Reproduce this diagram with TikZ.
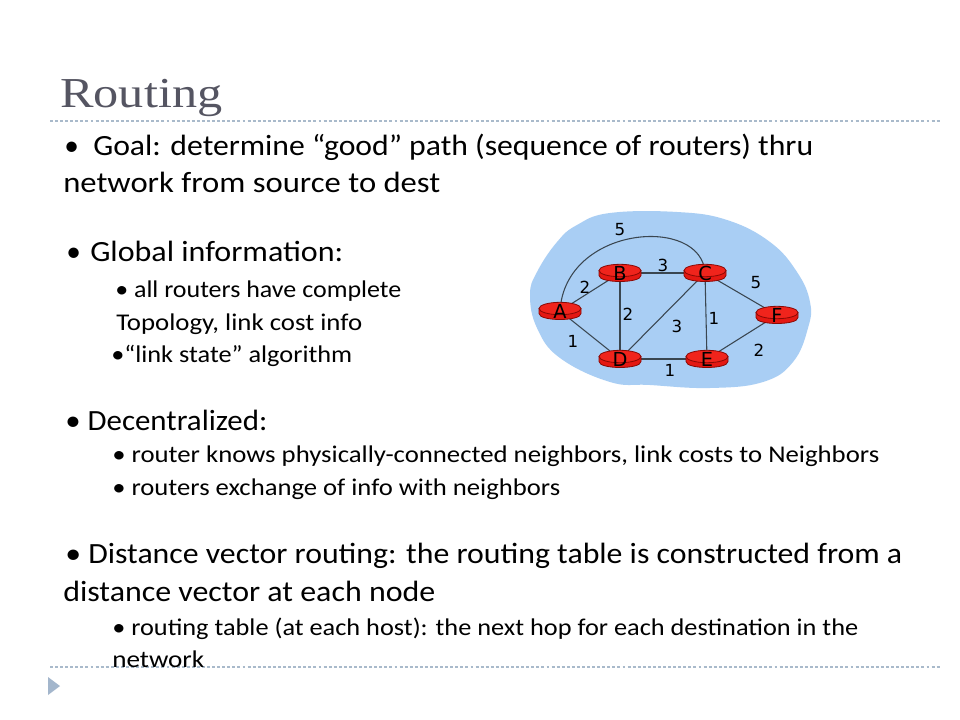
\documentclass[tikz,border=0pt]{standalone}
\usepackage{fontspec}
\usepackage{graphicx}
\setmainfont{Carlito}
\newfontfamily\titlefont{Liberation Serif}
\newfontfamily\netfont{DejaVu Sans}
\definecolor{titlegray}{HTML}{555562}
\definecolor{dashcol}{HTML}{A9BACB}
\definecolor{tricol}{HTML}{A3B6CC}
\definecolor{blobblue}{HTML}{A9CEF4}
\definecolor{rtrred}{HTML}{E41812}
\definecolor{rtrtop}{HTML}{F0241C}
\definecolor{rtredge}{HTML}{8A0804}
\definecolor{edgegray}{HTML}{3A4650}
\pgfdeclarelayer{bg}
\pgfdeclarelayer{mid}
\pgfsetlayers{bg,mid,main}
% fit text to a width given in pixels (1px = 0.75pt), keeping its height
\newcommand\fitpx[2]{\resizebox{\dimexpr #1pt*3/4\relax}{\height}{#2}}
\newcommand\drawrouter[1]{%
  \begin{pgfonlayer}{mid}
  \begin{scope}[shift={(#1.center)}]
    \fill[rtrred, draw=rtredge, line width=0.6pt]
      (-21,-2.5) -- (-21,2.5) .. controls (-21,10.5) and (21,10.5) .. (21,2.5) -- (21,-2.5) -- cycle;
    \fill[rtrtop, draw=rtredge, line width=0.6pt] (0,-2.5) ellipse [x radius=21, y radius=6.2];
  \end{scope}
  \end{pgfonlayer}}
\tikzset{
  txt/.style={anchor=base west, inner sep=0pt, font=\fontsize{22}{26}\selectfont},
  subtxt/.style={anchor=base west, inner sep=0pt, font=\fontsize{18}{21}\selectfont},
  sep/.style={draw=dashcol, line width=0.8pt, dash pattern=on 2.2pt off 1.6pt},
  router/.style={inner sep=0pt, font=\netfont\fontsize{14.5}{14.5}\selectfont},
  link/.style={draw=edgegray, line width=0.8pt},
  cost/.style={font=\netfont\fontsize{12.5}{13}\selectfont, inner sep=0pt},
}
\begin{document}
\begin{tikzpicture}[x=0.75pt, y=-0.75pt]
\useasboundingbox (0,0) rectangle (960,720);
\begin{pgfonlayer}{bg}
\fill[white] (0,0) rectangle (960,720);
\end{pgfonlayer}
% title
\node[anchor=base west, inner sep=0pt, text=titlegray, font=\titlefont\fontsize{32}{36}\selectfont] (title) at (60,108) {\fitpx{162}{Routing}};
\draw[sep] (50,121) -- (940,121);
\draw[sep] (50,667) -- (940,667);
\fill[tricol] (48,677) -- (60,686) -- (48,695) -- cycle;
% body text
\node[txt] (b1) at (64,156) {•};
\node[txt] (g1) at (93,156) {\fitpx{720}{Goal: determine “good” path (sequence of routers) thru}};
\node[txt] (g2) at (63,193) {\fitpx{377}{network from source to dest}};
\node[txt] (b2) at (66,262) {•};
\node[txt] (gi) at (90,262) {\fitpx{253}{Global information:}};
\node[subtxt] (s1) at (115,297) {\fitpx{286}{• all routers have complete}};
\node[subtxt] (s2) at (116,330) {\fitpx{246}{Topology, link cost info}};
\node[subtxt] (s3) at (111,362) {\fitpx{241}{•“link state” algorithm}};
\node[txt] (dc) at (65,430) {\fitpx{202}{• Decentralized:}};
\node[subtxt] (s4) at (112,462) {\fitpx{767}{• router knows physically-connected neighbors, link costs to Neighbors}};
\node[subtxt] (s5) at (112,495) {\fitpx{448}{• routers exchange of info with neighbors}};
\node[txt] (dv1) at (65,563) {\fitpx{837}{• Distance vector routing: the routing table is constructed from a}};
\node[txt] (dv2) at (63,601) {\fitpx{372}{distance vector at each node}};
\node[subtxt] (s6) at (112,635) {\fitpx{746}{• routing table (at each host): the next hop for each destination in the}};
\node[subtxt] (s7) at (112,667) {\fitpx{92}{network}};
% network
\node[router] (A) at (560,311) {A};
\node[router] (B) at (620,273) {B};
\node[router] (C) at (705,273) {C};
\node[router] (D) at (620,359) {D};
\node[router] (E) at (707,359) {E};
\node[router] (F) at (777,315) {F};
\drawrouter{A}
\drawrouter{B}
\drawrouter{C}
\drawrouter{D}
\drawrouter{E}
\drawrouter{F}
\begin{pgfonlayer}{bg}
\fill[blobblue] plot[smooth cycle, tension=0.7] coordinates {
  (577,225) (610,213) (677,212) (727,220) (770,242) (797,272) (810,302) (808,328)
  (793,362) (763,382) (710,388) (650,385) (610,382) (560,358) (537,328) (530,295)
  (537,272) (557,242)};
\draw[link] (A.center) -- (B.center);
\draw[link] (B.center) -- (C.center);
\draw[link] (A.center) -- (D.center);
\draw[link] (B.center) -- (D.center);
\draw[link] (C.center) -- (D.center);
\draw[link] (C.center) -- (E.center);
\draw[link] (D.center) -- (E.center);
\draw[link] (C.center) -- (F.center);
\draw[link] (E.center) -- (F.center);
\draw[link] (A.center) .. controls (565,225) and (702,215) .. (C.center);
\end{pgfonlayer}
\node[cost] (l1) at (620,230) {5};
\node[cost] (l2) at (585,287) {2};
\node[cost] (l3) at (663,265) {3};
\node[cost] (l4) at (756,283) {5};
\node[cost] (l5) at (628,314) {2};
\node[cost] (l6) at (677,326) {3};
\node[cost] (l7) at (714,318) {1};
\node[cost] (l8) at (573,341) {1};
\node[cost] (l9) at (670,370) {1};
\node[cost] (l10) at (759,350) {2};
\end{tikzpicture}
\end{document}
